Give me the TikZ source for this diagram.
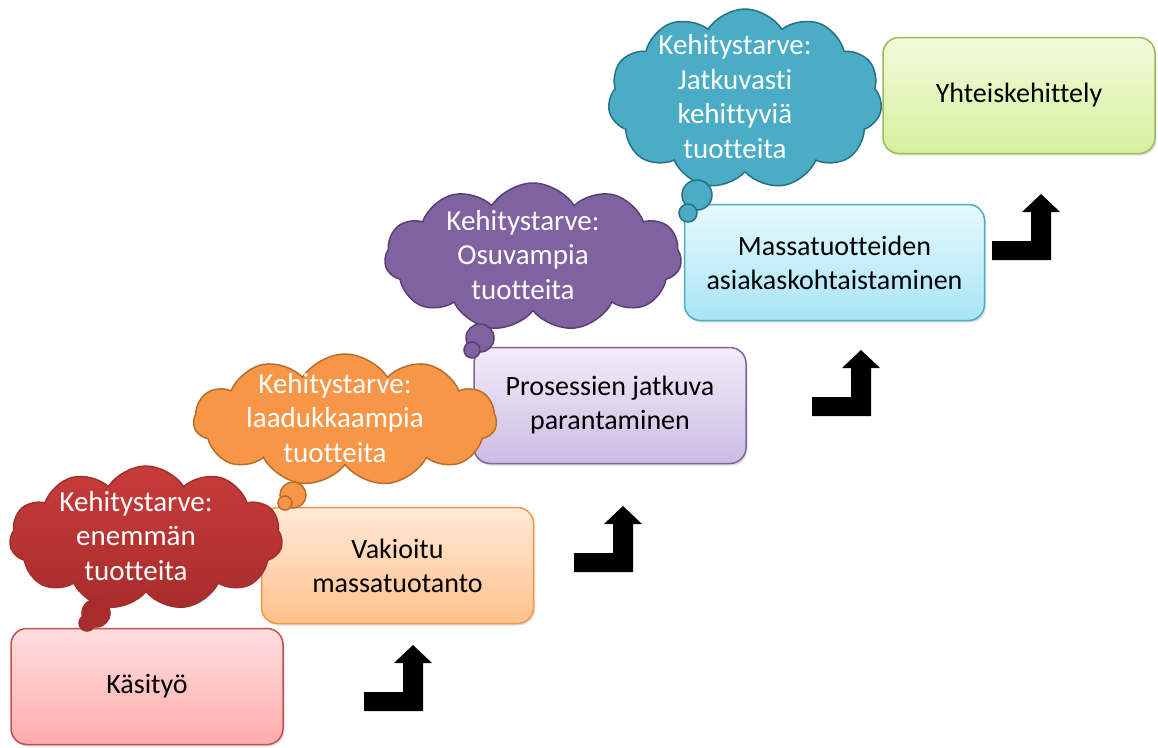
\documentclass[tikz,border=0pt]{standalone}
\usepackage{fontspec}
\setmainfont[Ligatures=NoCommon]{Carlito}
\usetikzlibrary{shapes.symbols,shadows}

\definecolor{redline}{RGB}{192,80,77}
\definecolor{redtop}{RGB}{255,222,222}
\definecolor{redbot}{RGB}{255,172,172}
\definecolor{orline}{RGB}{247,150,70}
\definecolor{ortop}{RGB}{255,234,214}
\definecolor{orbot}{RGB}{255,192,140}
\definecolor{puline}{RGB}{128,100,162}
\definecolor{putop}{RGB}{242,236,248}
\definecolor{pubot}{RGB}{204,188,228}
\definecolor{blline}{RGB}{75,172,198}
\definecolor{bltop}{RGB}{230,249,253}
\definecolor{blbot}{RGB}{168,228,246}
\definecolor{grline}{RGB}{155,187,89}
\definecolor{grtop}{RGB}{242,251,218}
\definecolor{grbot}{RGB}{214,240,158}
% cloud colours
\definecolor{cred}{RGB}{200,60,58}
\definecolor{credb}{RGB}{168,44,44}
\definecolor{credline}{RGB}{160,48,46}
\definecolor{cor}{RGB}{247,150,70}
\definecolor{corline}{RGB}{184,110,44}
\definecolor{cpu}{RGB}{128,98,160}
\definecolor{cpuline}{RGB}{88,64,116}
\definecolor{cte}{RGB}{75,172,198}
\definecolor{cteline}{RGB}{40,112,132}

% cloud text sits a little left of the cloud centre, cloud size from the style
\newcommand{\needtext}[1]{\smash{\makebox[0pt]{\kern-20pt\raisebox{-7pt}{\begin{tabular}{@{}c@{}}#1\end{tabular}}}}}

\tikzset{
  stage/.style={rectangle, rounded corners=16pt, line width=1.5pt, align=center,
    minimum width=272pt, minimum height=116pt,
    drop shadow={opacity=0.25, shadow xshift=1.5pt, shadow yshift=-2pt},
    font=\fontsize{28}{34}\selectfont},
  need/.style={cloud, cloud puffs=11, cloud puff arc=115, line width=1.5pt,
    text=white, inner sep=0pt, font=\fontsize{29}{34.5}\selectfont},
  bentup/.pic={
    \fill[black] (0,0) -- (0,-19) -- (39,-19) -- (39,-48) -- (30,-48)
      -- (49,-66) -- (68,-48) -- (59,-48) -- (59,0) -- cycle;
  }
}

\begin{document}
\begin{tikzpicture}[x=1pt,y=-1pt]
  \useasboundingbox[fill=white] (0,0) rectangle (1158,747);

  % stages
  \node[stage, draw=redline, top color=redtop, bottom color=redbot]
    (kasityo) at (147,686.5) {Käsityö};
  \node[stage, draw=orline, top color=ortop, bottom color=orbot]
    (vakioitu) at (397.5,565.5) {Vakioitu\\massatuotanto};
  \node[stage, draw=puline, top color=putop, bottom color=pubot]
    (prosessi) at (610,405.5) {Prosessien jatkuva\\parantaminen};
  \node[stage, draw=blline, top color=bltop, bottom color=blbot, minimum width=300pt]
    (massa) at (834.5,262.5) {Massatuotteiden\\asiakaskohtaistaminen};
  \node[stage, draw=grline, top color=grtop, bottom color=grbot]
    (yhteis) at (1019,95.5) {Yhteiskehittely};

  % steps
  \pic at (364,711) {bentup};
  \pic at (574,572) {bentup};
  \pic at (812,416) {bentup};
  \pic at (992,260) {bentup};

  % needs
  \node[need, draw=cteline, fill=cte, minimum width=274pt, minimum height=180pt, aspect=1.5]
    (tarve4) at (745,99) {\needtext{Kehitystarve:\\Jatkuvasti\\kehittyviä\\tuotteita}};
  \filldraw[draw=cteline, fill=cte, line width=1.5pt] (697,195) circle (15pt);
  \filldraw[draw=cteline, fill=cte, line width=1.5pt] (688,213) circle (9pt);

  \node[need, draw=cpuline, fill=cpu, minimum width=297pt, minimum height=148pt, aspect=2]
    (tarve3) at (533,257) {\needtext{Kehitystarve:\\Osuvampia\\tuotteita}};
  \filldraw[draw=cpuline, fill=cpu, line width=1.5pt] (480,338) circle (14pt);
  \filldraw[draw=cpuline, fill=cpu, line width=1.5pt] (472,350) circle (8pt);

  \node[need, draw=corline, fill=cor, minimum width=303pt, minimum height=132pt, aspect=2.3]
    (tarve2) at (345,420) {\needtext{Kehitystarve:\\laadukkaampia\\tuotteita}};
  \filldraw[draw=corline, fill=cor, line width=1.5pt] (293,495) circle (13pt);
  \filldraw[draw=corline, fill=cor, line width=1.5pt] (285,503) circle (7pt);

  \node[need, draw=credline, top color=cred, bottom color=credb, minimum width=273pt, minimum height=144pt, aspect=1.9]
    (tarve1) at (146,538) {\needtext{Kehitystarve:\\enemmän\\tuotteita}};
  \filldraw[draw=credline, fill=credb, line width=1.5pt] (96,613) circle (14pt);
  \filldraw[draw=credline, fill=credb, line width=1.5pt] (87,623) circle (8pt);
\end{tikzpicture}
\end{document}
